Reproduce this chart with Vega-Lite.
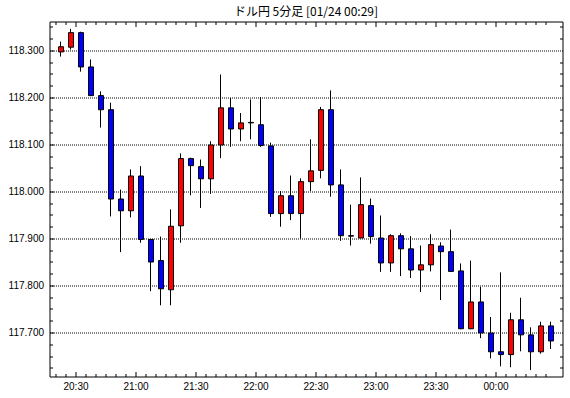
{
  "$schema": "https://vega.github.io/schema/vega-lite/v6.json",
  "width": 513,
  "height": 355,
  "autosize": {"type": "none"},
  "padding": {"left": 49.5, "top": 21.5, "right": 7.5, "bottom": 21.5},
  "background": "white",
  "title": {"text": "ドル円 5分足 [01/24 00:29]", "font": "Noto Sans CJK JP", "fontSize": 12, "fontWeight": "normal", "color": "black", "anchor": "middle", "frame": "group", "offset": 3},
  "data": {"values": [
    {"t":"2015-01-23T20:20:00Z","o":118.297,"h":118.319,"l":118.287,"c":118.308},
    {"t":"2015-01-23T20:25:00Z","o":118.307,"h":118.346,"l":118.302,"c":118.338},
    {"t":"2015-01-23T20:30:00Z","o":118.338,"h":118.340,"l":118.255,"c":118.265},
    {"t":"2015-01-23T20:35:00Z","o":118.265,"h":118.281,"l":118.203,"c":118.204},
    {"t":"2015-01-23T20:40:00Z","o":118.204,"h":118.213,"l":118.136,"c":118.174},
    {"t":"2015-01-23T20:45:00Z","o":118.174,"h":118.189,"l":117.947,"c":117.984},
    {"t":"2015-01-23T20:50:00Z","o":117.984,"h":118.004,"l":117.871,"c":117.959},
    {"t":"2015-01-23T20:55:00Z","o":117.959,"h":118.047,"l":117.945,"c":118.033},
    {"t":"2015-01-23T21:00:00Z","o":118.033,"h":118.054,"l":117.891,"c":117.898},
    {"t":"2015-01-23T21:05:00Z","o":117.898,"h":117.899,"l":117.788,"c":117.850},
    {"t":"2015-01-23T21:10:00Z","o":117.853,"h":117.904,"l":117.758,"c":117.793},
    {"t":"2015-01-23T21:15:00Z","o":117.791,"h":117.962,"l":117.758,"c":117.926},
    {"t":"2015-01-23T21:20:00Z","o":117.927,"h":118.081,"l":117.891,"c":118.070},
    {"t":"2015-01-23T21:25:00Z","o":118.070,"h":118.072,"l":117.992,"c":118.055},
    {"t":"2015-01-23T21:30:00Z","o":118.053,"h":118.068,"l":117.965,"c":118.027},
    {"t":"2015-01-23T21:35:00Z","o":118.027,"h":118.107,"l":117.995,"c":118.099},
    {"t":"2015-01-23T21:40:00Z","o":118.099,"h":118.249,"l":118.071,"c":118.178},
    {"t":"2015-01-23T21:45:00Z","o":118.178,"h":118.199,"l":118.095,"c":118.133},
    {"t":"2015-01-23T21:50:00Z","o":118.133,"h":118.167,"l":118.107,"c":118.146},
    {"t":"2015-01-23T21:55:00Z","o":118.147,"h":118.196,"l":118.111,"c":118.146},
    {"t":"2015-01-23T22:00:00Z","o":118.142,"h":118.201,"l":118.095,"c":118.098},
    {"t":"2015-01-23T22:05:00Z","o":118.097,"h":118.104,"l":117.946,"c":117.953},
    {"t":"2015-01-23T22:10:00Z","o":117.953,"h":118.001,"l":117.925,"c":117.991},
    {"t":"2015-01-23T22:15:00Z","o":117.991,"h":118.034,"l":117.939,"c":117.953},
    {"t":"2015-01-23T22:20:00Z","o":117.953,"h":118.028,"l":117.900,"c":118.021},
    {"t":"2015-01-23T22:25:00Z","o":118.021,"h":118.111,"l":118.001,"c":118.044},
    {"t":"2015-01-23T22:30:00Z","o":118.045,"h":118.180,"l":118.028,"c":118.174},
    {"t":"2015-01-23T22:35:00Z","o":118.174,"h":118.215,"l":117.989,"c":118.014},
    {"t":"2015-01-23T22:40:00Z","o":118.014,"h":118.047,"l":117.895,"c":117.906},
    {"t":"2015-01-23T22:45:00Z","o":117.906,"h":117.972,"l":117.885,"c":117.905},
    {"t":"2015-01-23T22:50:00Z","o":117.901,"h":118.030,"l":117.901,"c":117.972},
    {"t":"2015-01-23T22:55:00Z","o":117.970,"h":117.985,"l":117.889,"c":117.904},
    {"t":"2015-01-23T23:00:00Z","o":117.901,"h":117.949,"l":117.829,"c":117.848},
    {"t":"2015-01-23T23:05:00Z","o":117.848,"h":117.909,"l":117.829,"c":117.906},
    {"t":"2015-01-23T23:10:00Z","o":117.906,"h":117.911,"l":117.820,"c":117.878},
    {"t":"2015-01-23T23:15:00Z","o":117.878,"h":117.905,"l":117.816,"c":117.833},
    {"t":"2015-01-23T23:20:00Z","o":117.833,"h":117.885,"l":117.786,"c":117.844},
    {"t":"2015-01-23T23:25:00Z","o":117.844,"h":117.909,"l":117.830,"c":117.887},
    {"t":"2015-01-23T23:30:00Z","o":117.884,"h":117.892,"l":117.769,"c":117.872},
    {"t":"2015-01-23T23:35:00Z","o":117.872,"h":117.919,"l":117.829,"c":117.830},
    {"t":"2015-01-23T23:40:00Z","o":117.831,"h":117.847,"l":117.707,"c":117.708},
    {"t":"2015-01-23T23:45:00Z","o":117.708,"h":117.853,"l":117.707,"c":117.765},
    {"t":"2015-01-23T23:50:00Z","o":117.765,"h":117.797,"l":117.688,"c":117.699},
    {"t":"2015-01-23T23:55:00Z","o":117.699,"h":117.733,"l":117.645,"c":117.659},
    {"t":"2015-01-24T00:00:00Z","o":117.659,"h":117.828,"l":117.628,"c":117.653},
    {"t":"2015-01-24T00:05:00Z","o":117.653,"h":117.742,"l":117.626,"c":117.727},
    {"t":"2015-01-24T00:10:00Z","o":117.727,"h":117.774,"l":117.660,"c":117.695},
    {"t":"2015-01-24T00:15:00Z","o":117.695,"h":117.711,"l":117.620,"c":117.659},
    {"t":"2015-01-24T00:20:00Z","o":117.659,"h":117.723,"l":117.655,"c":117.714},
    {"t":"2015-01-24T00:25:00Z","o":117.714,"h":117.723,"l":117.665,"c":117.682}
  ]},
  "encoding": {
    "x": {"field": "t", "type": "temporal", "timeUnit": {"unit": "yearmonthdatehoursminutes", "utc": true, "step": 5},
          "scale": {"type": "utc", "domain": [1422044220000, 1422059610000]},
          "axis": {"title": null, "format": "%H:%M",
                   "values": [1422044400000,1422044700000,1422045000000,1422045300000,1422045600000,1422045900000,1422046200000,1422046500000,1422046800000,1422047100000,1422047400000,1422047700000,1422048000000,1422048300000,1422048600000,1422048900000,1422049200000,1422049500000,1422049800000,1422050100000,1422050400000,1422050700000,1422051000000,1422051300000,1422051600000,1422051900000,1422052200000,1422052500000,1422052800000,1422053100000,1422053400000,1422053700000,1422054000000,1422054300000,1422054600000,1422054900000,1422055200000,1422055500000,1422055800000,1422056100000,1422056400000,1422056700000,1422057000000,1422057300000,1422057600000,1422057900000,1422058200000,1422058500000,1422058800000,1422059100000],
                   "labelExpr": "utcminutes(datum.value) % 30 == 0 ? datum.label : ''",
                   "ticks": false,
                   "labelPadding": 5,
                   "grid": true, "gridColor": "black", "gridWidth": 1, "gridOpacity": 1,
                   "gridDash": {"condition": {"test": "utcminutes(datum.value) % 30 == 0", "value": [5, 345, 5, 1000]}, "value": [3, 349, 3, 1000]}}}
  },
  "layer": [
    {
      "mark": {"type": "rule", "color": "black", "strokeWidth": 1},
      "encoding": {
        "x": {"field": "t", "type": "temporal", "timeUnit": {"unit": "yearmonthdatehoursminutes", "utc": true, "step": 5}, "bandPosition": 0.5},
        "y": {"field": "l", "type": "quantitative",
              "scale": {"domain": [117.606383, 118.361702], "nice": false, "zero": false},
              "axis": {"title": null, "format": ".3f",
                       "values": [117.625, 117.65, 117.675, 117.7, 117.725, 117.75, 117.775, 117.8, 117.825, 117.85, 117.875, 117.9, 117.925, 117.95, 117.975, 118.0, 118.025, 118.05, 118.075, 118.1, 118.125, 118.15, 118.175, 118.2, 118.225, 118.25, 118.275, 118.3, 118.325, 118.35],
                       "labelExpr": "round(datum.value * 1000) % 100 == 0 ? datum.label : ''",
                       "tickSize": -4,
                       "tickOpacity": {"condition": {"test": "round(datum.value * 1000) % 100 == 0", "value": 1}, "value": 0},
                       "labelPadding": 10,
                       "grid": true, "gridColor": "black", "gridWidth": 1, "gridOpacity": 1,
                       "gridDash": {"condition": {"test": "round(datum.value * 1000) % 100 == 0", "value": [1, 1]}, "value": [3, 507, 3, 1000]}}},
        "y2": {"field": "h"}
      }
    },
    {
      "mark": {"type": "bar", "stroke": "black", "strokeWidth": 1, "width": {"band": 0.6}},
      "encoding": {
        "y": {"field": "o", "type": "quantitative",
              "scale": {"domain": [117.606383, 118.361702], "nice": false, "zero": false},
              "axis": {"title": null, "format": ".3f",
                       "values": [117.625, 117.65, 117.675, 117.7, 117.725, 117.75, 117.775, 117.8, 117.825, 117.85, 117.875, 117.9, 117.925, 117.95, 117.975, 118.0, 118.025, 118.05, 118.075, 118.1, 118.125, 118.15, 118.175, 118.2, 118.225, 118.25, 118.275, 118.3, 118.325, 118.35],
                       "labelExpr": "round(datum.value * 1000) % 100 == 0 ? datum.label : ''",
                       "tickSize": -4,
                       "tickOpacity": {"condition": {"test": "round(datum.value * 1000) % 100 == 0", "value": 1}, "value": 0},
                       "labelPadding": 10,
                       "grid": true, "gridColor": "black", "gridWidth": 1, "gridOpacity": 1,
                       "gridDash": {"condition": {"test": "round(datum.value * 1000) % 100 == 0", "value": [1, 1]}, "value": [3, 507, 3, 1000]}}},
        "y2": {"field": "c"},
        "color": {"condition": {"test": "datum.c > datum.o", "value": "#FF0000"}, "value": "#0000FF"}
      }
    }
  ],
  "config": {
    "view": {"stroke": "black", "strokeWidth": 1},
    "axis": {"grid": false, "domain": false, "tickColor": "black", "tickWidth": 1, "labelFont": "Liberation Sans", "labelFontSize": 10, "labelColor": "black", "labelFlush": false, "labelOverlap": false}
  }
}
